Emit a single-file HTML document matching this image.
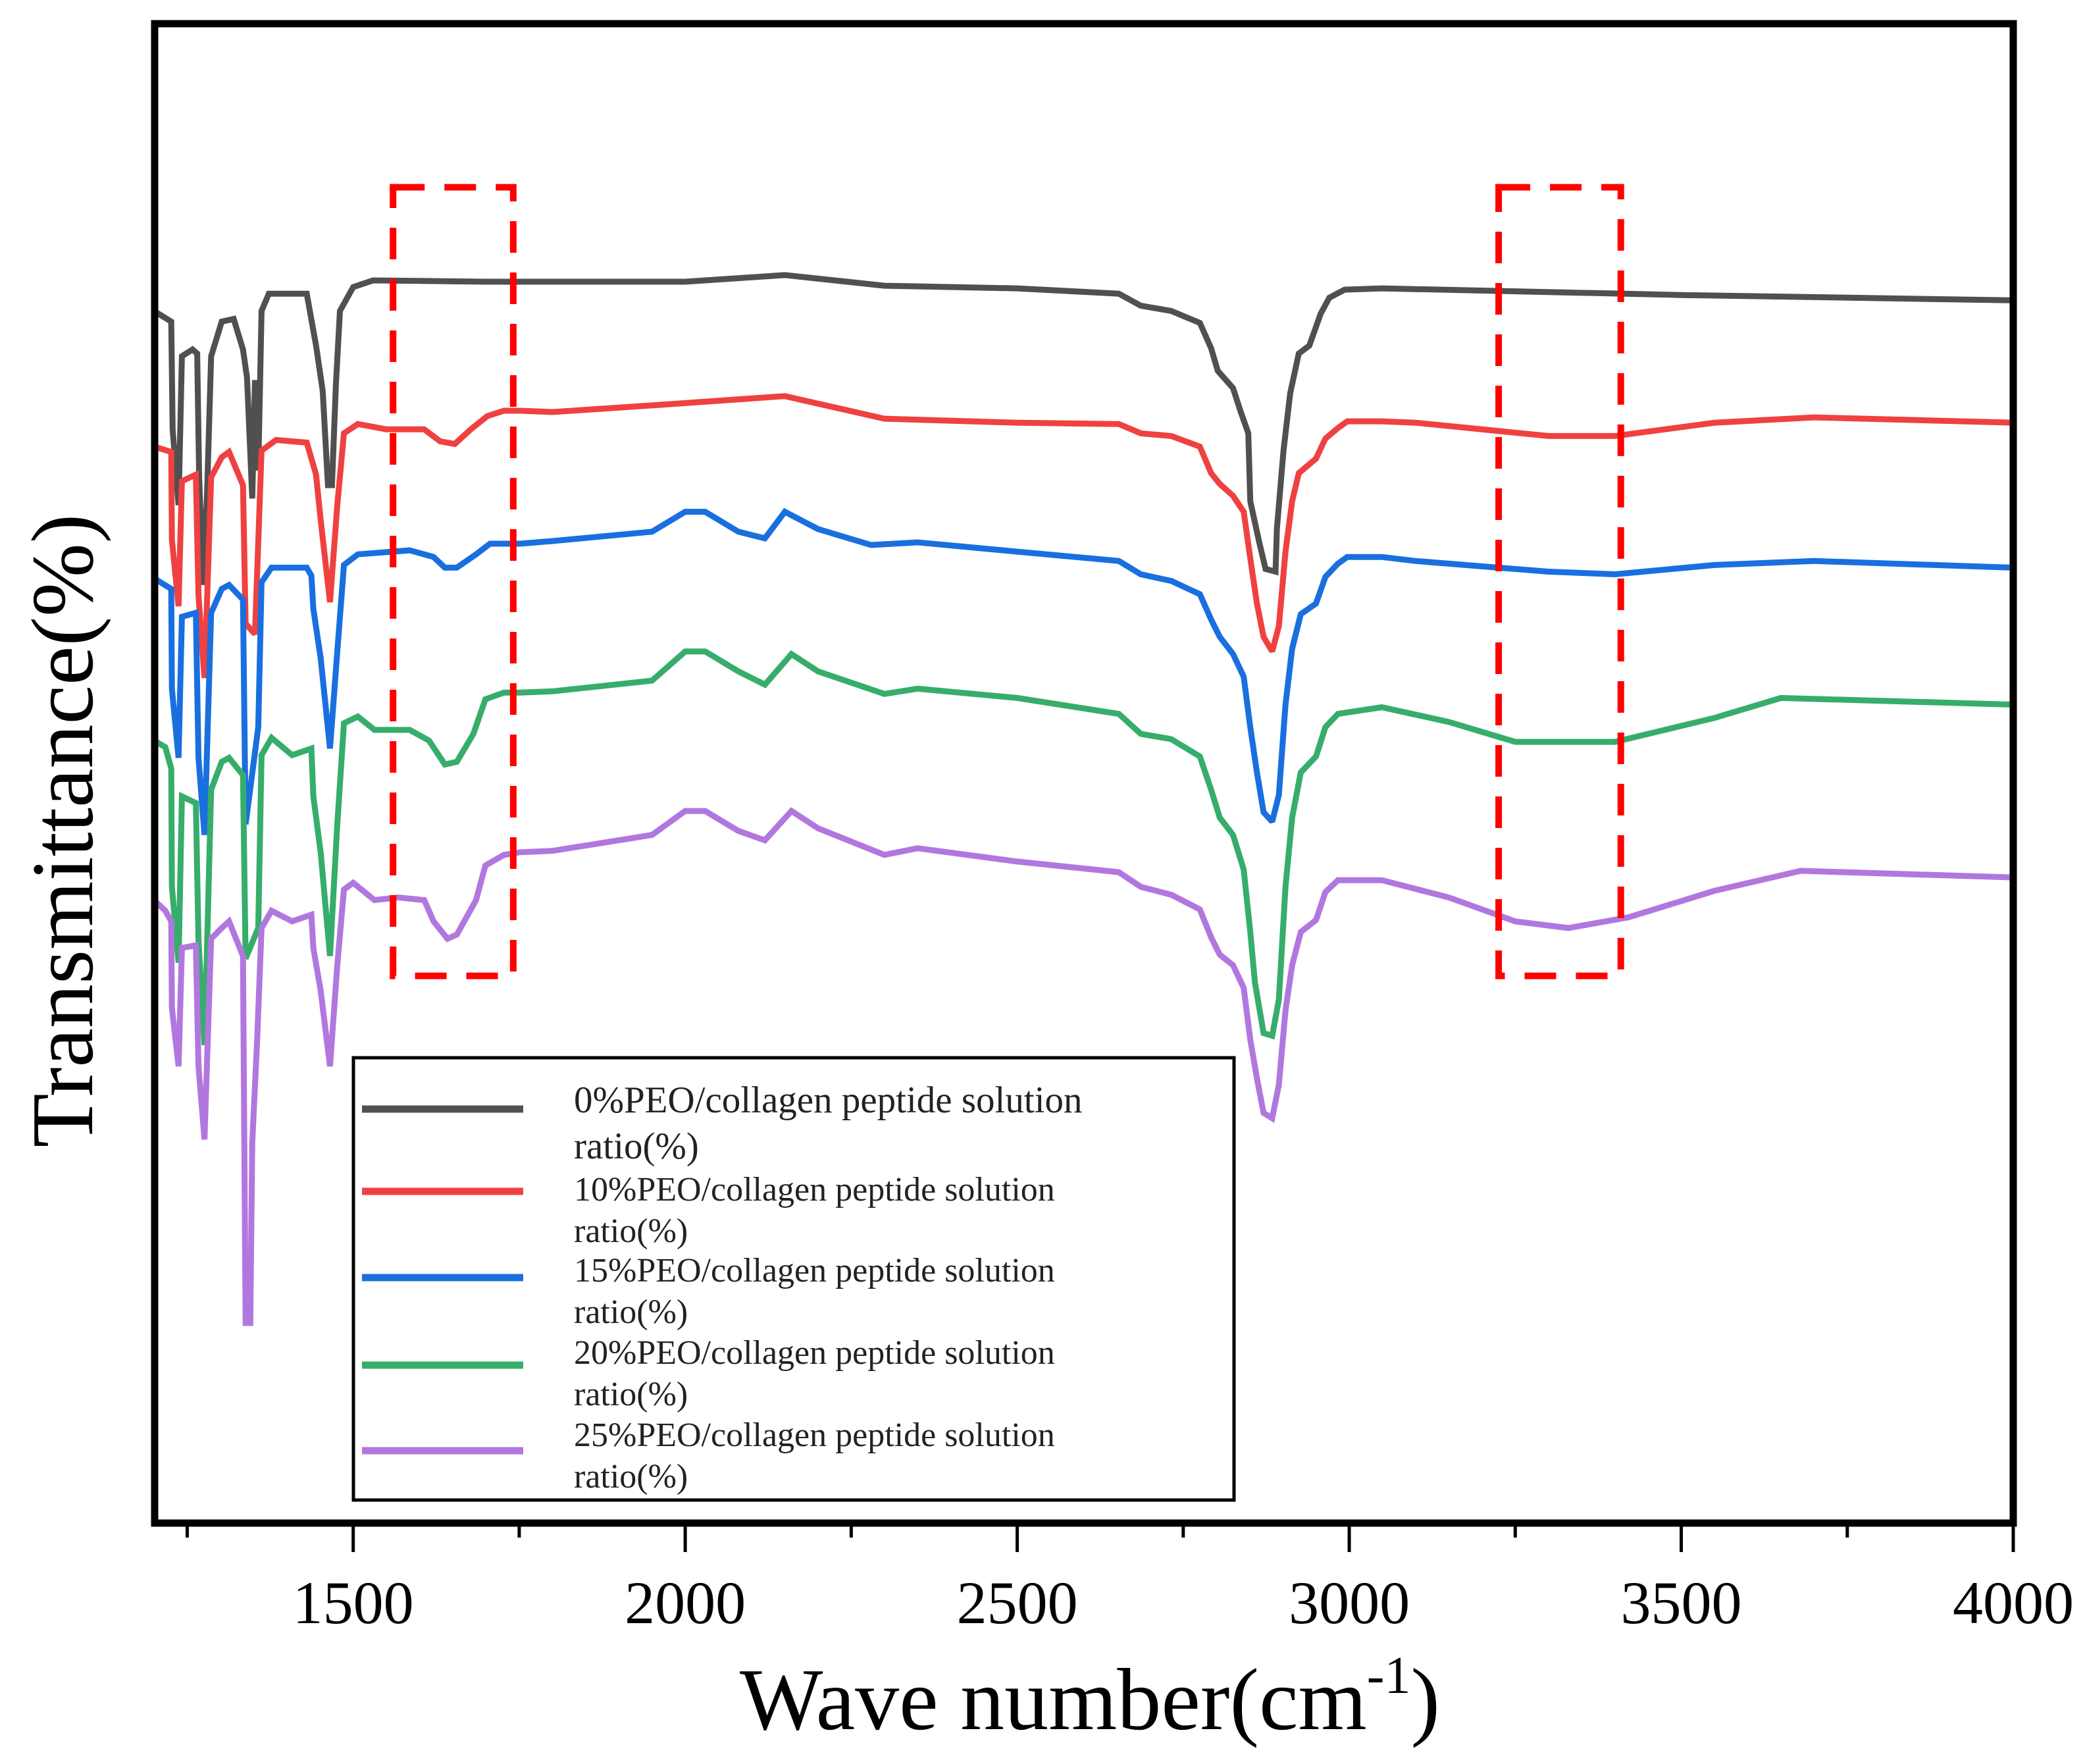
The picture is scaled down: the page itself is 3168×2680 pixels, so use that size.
<!DOCTYPE html>
<html><head><meta charset="utf-8"><title>FTIR spectra</title>
<style>html,body{margin:0;padding:0;background:#fff;}svg{display:block;}</style></head>
<body>
<svg id="chart" xmlns="http://www.w3.org/2000/svg" width="3168" height="2680" viewBox="0 0 3168 2680">
<rect width="3168" height="2680" fill="#fff"/>
<g id="curves"></g>
<g id="boxes"></g>
<rect x="235" y="36" width="2824" height="2278" fill="none" stroke="#000" stroke-width="11"/>
<g id="ticks"></g>
<g id="ticklabels" font-family="'Liberation Serif', serif" font-size="92" text-anchor="middle"></g>
<text x="1656" y="2627" font-family="'Liberation Serif', serif" font-size="134" text-anchor="middle">Wave number(cm<tspan font-size="80" dy="-55">-1</tspan><tspan dy="55">)</tspan></text>
<text transform="translate(140,1262) rotate(-90)" font-family="'Liberation Serif', serif" font-size="134" text-anchor="middle">Transmittance(%)</text>
<g>
<rect x="537" y="1607" width="1338" height="672" fill="#fff" stroke="#000" stroke-width="5"/>
<g id="legend-items" font-family="'Liberation Serif', serif" fill="#222"></g>
</g>
</svg>
<script>
var xDomain=[1200,4000];
var tickValues=[1250,1500,1750,2000,2250,2500,2750,3000,3250,3500,3750,4000];
var tickLabels=["1500","2000","2500","3000","3500","4000"];
var labelValues=[1500,2000,2500,3000,3500,4000];
var seriesNames=["0%PEO/collagen peptide solution","10%PEO/collagen peptide solution","15%PEO/collagen peptide solution","20%PEO/collagen peptide solution","25%PEO/collagen peptide solution"];
var seriesColors=["#505050","#EF4141","#1A6FDF","#37AD6B","#B177DE"];
var wn0=[1196,1226,1228,1237,1242,1258,1265,1268,1274,1280,1286,1302,1320,1334,1340,1348,1352,1357,1362,1373,1430,1444,1454,1462,1468,1474,1480,1500,1530,1700,2000,2150,2300,2500,2653,2686,2732,2775,2792,2802,2825,2836,2848,2851,2864,2874,2889,2891,2901,2911,2924,2940,2957,2970,2993,3049,3500,4000];
var t0=[909,901,820,763,875,880,877,784,703,773,875,901,903,880,859,768,857,789,909,922,922,883,849,778,778,854,909,927,932,931,931,936,928,926,922,913,909,900,881,864,851,834,817,766,736,715,713,745,804,847,877,883,907,919,925,926,921,917];
var wn10=[1196,1226,1227,1237,1242,1263,1267,1276,1286,1302,1313,1334,1338,1352,1362,1384,1430,1444,1451,1465,1476,1486,1507,1550,1607,1631,1653,1677,1702,1727,1751,1800,1950,2150,2300,2500,2653,2686,2732,2775,2792,2805,2825,2841,2851,2861,2871,2884,2894,2904,2914,2924,2950,2964,2983,2997,3049,3100,3300,3400,3550,3700,4000];
var t10=[807,803,737,687,781,786,695,633,784,799,803,778,674,666,804,812,810,786,752,690,763,817,824,820,820,811,809,820,830,834,834,833,838,845,828,825,824,817,815,807,787,779,770,758,723,689,664,653,672,728,766,787,798,813,821,826,826,825,815,815,825,829,825];
var wn15=[1196,1226,1227,1237,1242,1263,1267,1276,1286,1302,1313,1334,1338,1357,1362,1377,1430,1437,1440,1451,1465,1476,1486,1507,1585,1621,1638,1656,1685,1706,1751,1800,1950,2000,2030,2080,2120,2150,2200,2280,2350,2500,2653,2686,2732,2775,2792,2805,2825,2841,2851,2861,2871,2884,2894,2904,2914,2927,2950,2964,2983,2997,3049,3100,3300,3400,3550,3700,4000];
var t15=[708,700,625,573,679,682,573,515,682,700,703,692,523,596,705,716,716,710,685,648,580,653,718,726,729,724,716,716,726,734,734,736,743,758,758,743,738,758,745,733,735,728,721,711,706,696,677,664,651,634,596,562,532,525,545,613,655,681,689,709,719,724,724,721,713,711,718,721,716];
var wn20=[1196,1217,1226,1227,1237,1242,1263,1267,1276,1286,1302,1313,1334,1338,1357,1362,1377,1408,1437,1440,1451,1465,1476,1486,1507,1532,1585,1614,1638,1656,1681,1699,1727,1751,1800,1950,2000,2030,2080,2120,2160,2200,2300,2350,2500,2653,2686,2732,2775,2792,2805,2825,2841,2851,2858,2871,2884,2894,2904,2914,2927,2950,2964,2983,3049,3150,3250,3400,3550,3650,4000];
var t20=[586,581,565,476,419,544,539,435,357,549,570,573,560,422,445,575,588,575,580,544,502,424,523,599,604,594,594,586,568,570,591,617,622,622,623,631,653,653,638,628,651,638,621,625,618,606,591,587,574,549,528,515,489,442,404,366,364,391,476,528,562,574,596,606,611,600,585,585,603,618,613];
var wn25=[1196,1217,1226,1227,1237,1242,1263,1267,1276,1286,1302,1313,1334,1338,1345,1348,1355,1362,1377,1408,1437,1440,1451,1465,1476,1486,1500,1532,1568,1607,1621,1642,1656,1685,1699,1727,1751,1800,1950,2000,2030,2080,2120,2160,2200,2300,2350,2500,2653,2686,2732,2775,2792,2805,2825,2841,2851,2861,2871,2884,2894,2904,2914,2927,2950,2964,2983,3049,3150,3250,3330,3420,3550,3680,4000];
var t25=[466,458,450,385,341,430,432,341,286,437,445,450,424,148,148,284,357,445,458,450,455,430,398,341,417,474,479,466,468,466,450,437,440,466,492,500,502,503,515,533,533,518,511,533,520,500,505,495,487,476,470,459,438,425,417,400,361,332,306,302,327,383,417,442,451,472,481,481,468,450,445,453,473,488,483];
var boxWn1=[1560,1741];
var boxWn2=[3225,3409];
var boxT=[1002,409];

var NS="http://www.w3.org/2000/svg";
var pxL=234,pxR=3059,pyB=2309,kY=2.0204;
function xS(w){return pxL+(w-xDomain[0])*(pxR-pxL)/(xDomain[1]-xDomain[0]);}
function yS(v){return pyB-v*kY;}
function mk(tag,attrs){var e=document.createElementNS(NS,tag);for(var k in attrs)e.setAttribute(k,attrs[k]);return e;}

var allWn=[wn0,wn10,wn15,wn20,wn25],allT=[t0,t10,t15,t20,t25];
var names=["series-0pct","series-10pct","series-15pct","series-20pct","series-25pct"];
var cg=document.getElementById('curves');
for(var s=0;s<5;s++){
  var pts=[];
  for(var i=0;i<allWn[s].length;i++){var w=Math.max(xDomain[0],Math.min(xDomain[1],allWn[s][i]));pts.push(xS(w).toFixed(1)+","+yS(allT[s][i]).toFixed(1));}
  var pl=mk('polyline',{points:pts.join(" "),fill:"none",stroke:seriesColors[s],"stroke-width":9,"stroke-linejoin":"miter","stroke-miterlimit":2});
  
  
  cg.appendChild(pl);
}
var bg=document.getElementById('boxes');
[boxWn1,boxWn2].forEach(function(b,i){
  var r=mk('rect',{x:xS(b[0]),y:yS(boxT[0]),width:xS(b[1])-xS(b[0]),height:yS(boxT[1])-yS(boxT[0]),fill:"none",stroke:"#FF0000","stroke-width":10,"stroke-dasharray":"48 30"});
  
  
  bg.appendChild(r);
});
var tg=document.getElementById('ticks');
tickValues.forEach(function(t){
  var major=(t%500===0);
  var l=mk('line',{x1:xS(t),x2:xS(t),y1:2314,y2:major?2358:2336,stroke:"#000","stroke-width":5});
  
  
  tg.appendChild(l);
});
var lg=document.getElementById('ticklabels');
labelValues.forEach(function(t,i){
  var tx=mk('text',{x:xS(t),y:2466});
  tx.textContent=tickLabels[i];
  
  
  lg.appendChild(tx);
});
var li=document.getElementById('legend-items');
var lineY=[1685,1810,1941,2074,2204];
var base1=[1690,1824,1947,2072,2197];
var base2=[1760,1887,2010,2135,2260];
for(var s=0;s<5;s++){
  var ln=mk('line',{x1:550,x2:795,y1:lineY[s],y2:lineY[s],stroke:seriesColors[s],"stroke-width":11});
  
  
  li.appendChild(ln);
  var fs=s==0?57:52;
  var t1=mk('text',{x:872,y:base1[s],"font-size":fs});
  t1.textContent=seriesNames[s];
  
  
  li.appendChild(t1);
  var t2=mk('text',{x:872,y:base2[s],"font-size":fs});
  t2.textContent="ratio(%)";
  
  
  li.appendChild(t2);
}
</script>
</body></html>
